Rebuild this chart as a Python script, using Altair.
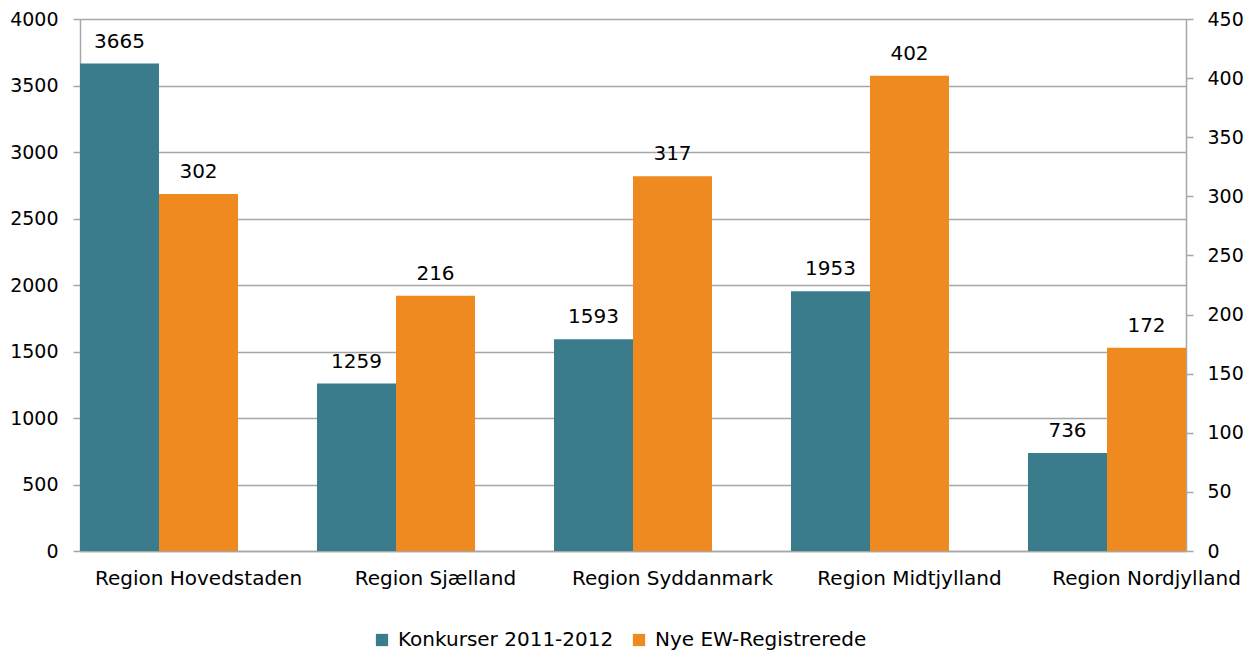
import altair as alt
import pandas as pd

categories = ["Region Hovedstaden", "Region Sjælland", "Region Syddanmark",
              "Region Midtjylland", "Region Nordjylland"]
series = ["Konkurser 2011-2012", "Nye EW-Registrerede"]
konkurser = [3665, 1259, 1593, 1953, 736]
ew_reg = [302, 216, 317, 402, 172]
left_ticks = [0, 500, 1000, 1500, 2000, 2500, 3000, 3500, 4000]
right_ticks = [0, 50, 100, 150, 200, 250, 300, 350, 400, 450]

TEAL = "#3A7B8C"
ORANGE = "#EE8A20"
GRID = "#A6A6A6"
FONT = "DejaVu Sans"

df1 = pd.DataFrame({"region": categories, "series": series[0], "value": konkurser})
df2 = pd.DataFrame({"region": categories, "series": series[1], "value": ew_reg})

x = alt.X("region:N", sort=categories,
          scale=alt.Scale(paddingInner=1/3, paddingOuter=0),
          axis=alt.Axis(title=None, labelAngle=0, ticks=False, labelOffset=39.5,
                        labelPadding=17, labelLimit=0, labelFontSize=20,
                        domainColor=GRID, domainWidth=1.5, grid=False))
xo = alt.XOffset("series:N", scale=alt.Scale(domain=series, paddingInner=0, paddingOuter=0))
color = alt.Color("series:N", scale=alt.Scale(domain=series, range=[TEAL, ORANGE]),
                  legend=alt.Legend(title=None, orient="none", direction="horizontal",
                                    legendX=292, legendY=611, symbolType="square",
                                    symbolSize=150, symbolStrokeWidth=0, symbolOpacity=1,
                                    labelFontSize=20, labelFont=FONT, labelColor="black",
                                    labelLimit=0, columnPadding=15, labelOffset=6))

yL = alt.Y("value:Q", scale=alt.Scale(domain=[0, 4000], nice=False),
           axis=alt.Axis(orient="left", values=left_ticks, title=None, grid=True,
                         format="d", gridColor=GRID, gridWidth=1.5, tickSize=7,
                         tickColor=GRID, tickWidth=1.5, domainColor=GRID,
                         domainWidth=1.5, labelPadding=15))
yR = alt.Y("value:Q", scale=alt.Scale(domain=[0, 450], nice=False),
           axis=alt.Axis(orient="right", values=right_ticks, title=None, grid=False,
                         format="d", tickSize=7, tickColor=GRID, tickWidth=1.5,
                         domainColor=GRID, domainWidth=1.5, labelPadding=14))

bars1 = alt.Chart(df1).mark_bar().encode(x=x, xOffset=xo, y=yL, color=color)
text1 = alt.Chart(df1).mark_text(baseline="alphabetic", dy=-16, fontSize=20, font=FONT,
                                 color="black").encode(x=x, xOffset=xo, y=yL,
                                                       text="value:Q")
bars2 = alt.Chart(df2).mark_bar().encode(x=x, xOffset=xo, y=yR, color=color)
text2 = alt.Chart(df2).mark_text(baseline="alphabetic", dy=-16, fontSize=20, font=FONT,
                                 color="black").encode(x=x, xOffset=xo, y=yR,
                                                       text="value:Q")

left = alt.layer(bars1, text1)
right = alt.layer(bars2, text2)

chart = alt.layer(left, right).resolve_scale(y="independent").properties(
    width=1106, height=532,
    autosize=alt.AutoSizeParams(type="none"),
    padding={"left": 72, "top": 11, "right": 63, "bottom": 100},
).configure_view(stroke=None).configure_axis(
    labelFont=FONT, labelFontSize=19, labelColor="black"
).configure_legend(labelFont=FONT)

chart.save("out.html", embed_options={"renderer": "svg", "actions": False})
